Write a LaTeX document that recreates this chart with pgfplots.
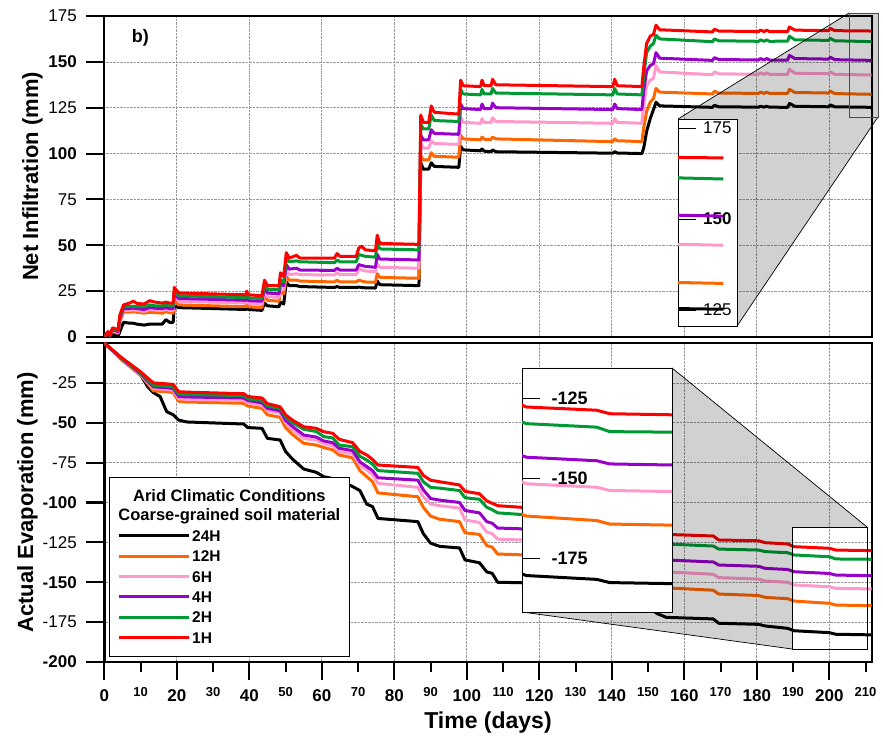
\documentclass[border=0pt]{standalone}
\usepackage{fontspec}
\setmainfont{Liberation Sans}
\usepackage{pgfplots}
\pgfplotsset{compat=1.18}
\usepackage{pgfplotstable}
\definecolor{corange}{RGB}{255,102,0}
\definecolor{cpink}{RGB}{255,153,204}
\definecolor{cpurple}{RGB}{153,0,204}
\definecolor{cgreen}{RGB}{0,153,51}
\definecolor{cred}{RGB}{255,0,0}
\tikzset{tk/.style={line width=2pt, black, solid}}

% Net infiltration: day, 24H, 12H, 6H, 4H, 2H, 1H
\pgfplotstableread{
day b o p u g r
0 0 0 0 0 0 0
1 1 2 2 2 2.5 3
1.5 0.5 1 1 1 1.5 1
2.3 1.5 3 3.5 4 4.5 5
3.8 0.5 2 2.5 3 3.5 4
4.3 3 8.5 9.5 10 11 12
5.3 8 13.5 14.5 15.5 16.5 17.5
7 7.5 13.5 14.5 15.5 16.5 18.5
8 7.5 13.8 14.8 15.8 16.8 19.5
9 7 13.5 14.5 15.5 16.5 18.3
11 6.5 13 14 15 16.5 18
12.5 7 13.5 15 16 17.5 19.8
14 7 13.3 14.7 15.7 17 19
16 7 13 14.5 15.5 17 18.5
17 9.5 13.8 15 16 17.5 19
18 8 13.3 14.5 15.5 17 18.5
19 8 13 14.5 15.5 17 18.5
19.3 17 20 22 23.5 25 27
20.5 16 17.5 19.5 21 22.5 24
30 15.5 17 19 20.5 22 23.5
39 15 16.5 18.5 20 21.5 23
39.3 15.5 17.5 19.5 21 22.5 25
39.8 15 16.5 18.3 19.8 21.3 23
43.5 14.5 16 18 19.5 21 22.5
44.2 18.5 23 25 27 29 31
45 17 20 22 24 26 28
48.2 16.5 19.5 21.5 23.5 26 28
48.6 19 24.5 27 29 31 35
49.5 18 23.5 26 28 30 33
50.2 30 33 36.5 39.5 43 46
51 28 31 34 37 41 43
53 28 31 34.5 37.5 41.5 44.5
54 27.5 30.5 34 36.5 41 43
63.5 27 30 33.8 36.3 40.5 43
64.2 27.5 31 35 37.5 42 45.5
65 27 30 34 36.5 41 44
69.5 27 30 34 36.5 41 44
70.2 27.2 31 37 39.5 45 48.5
71 27 30.5 36.5 39 44.5 49.5
72 26.8 30 36 38.5 44 47.5
74.8 26.7 29.8 35.5 38 43.5 47
75.3 30.5 34.5 40 45 51 55.5
76 28.5 32.5 38 42.5 48 51
86.8 28 32 37.5 42 47.5 50.5
87.3 95 99 106 110 116 121
88 91.5 96.5 103 107.5 113.5 117
89.5 91.5 96.5 103 107.5 113.5 117
90.2 95 100.5 107 113 121 126
91 93 98.5 105.5 111 118 122.5
97.8 92.5 98 105 110.5 117.5 121.5
98.3 104 110 120 127 135 140
99 102 108 117 124.5 132.5 137
103.8 101.5 107.5 116.5 124 132 136.5
104.2 102.5 109 119 127 135 140
104.8 101.3 107.8 117 124.5 132.5 137
106.7 101 107.8 117 124.5 132.5 137
107.1 102 109 119.5 127.5 135.5 140.5
108 101 108 117.5 125 133 137.5
140.3 100.2 106.5 116.5 124 132 136.5
140.8 101 108 119 127 135.5 140.5
141.5 100.3 107 117 124.5 132.5 137
148.3 100 106.5 116.5 124 132 136.5
148.8 103 114 126 134 142 147
149.6 112 123 137 145 155 160
150.6 119 128 140 148 158.5 164
151.5 124 130 141 149 160 165
152.2 128 135.5 148 155 164.5 170
153.2 126 133.5 144.5 152 162.5 167.5
167.8 125.2 132.5 143 150.8 161 166.3
168.3 126.3 134 144.5 152.3 162.5 167.8
169.5 125.5 133 143.5 151.3 161.5 166.8
180.5 125.3 132.8 143.2 151 161.2 166.5
181 125.8 133.5 144 151.8 162 167.3
182 125.3 132.8 143.2 151 161.2 166.5
182.7 125.8 133.5 144 151.8 162 167.3
183.5 125.3 132.8 143.2 151 161.2 166.5
188.5 125.2 132.8 143.2 151 161.3 166.5
189 127.3 135 146 153.5 164 169
190.5 125.8 133.3 143.8 151.8 162 167.3
199.8 125.5 133 143.5 151.5 161.7 167
200.3 126.5 134 144.5 152.5 162.8 168.2
201.5 125.5 132.7 143.2 151.2 161.5 167
212 125.2 132.3 142.8 150.8 161 166.8
}\infil

% Actual evaporation: day, 24H, 12H, 6H, 4H, 2H, 1H
\pgfplotstableread{
day b o p u g r
0 0 0 0 0 0 0
5 -10.5 -11 -10.6 -10.3 -10 -9.6
10 -20 -20.3 -19.7 -19.3 -18.7 -18
12 -27.5 -25.5 -24.5 -24 -23 -22
13.5 -31 -30 -28.5 -27.5 -26.5 -25
15.4 -33.6 -30.3 -28.8 -27.8 -26.8 -25.3
17.2 -43 -30.6 -29.1 -28.1 -27.1 -25.6
19 -45 -31 -29.5 -28.5 -27.5 -26
20.5 -48.3 -36.5 -35 -33.5 -32 -30.5
22.7 -49.5 -37 -35.3 -33.8 -32.3 -30.8
38.5 -50.8 -37.8 -36 -34.5 -33 -31.8
39.5 -53 -39.5 -37.5 -36 -35 -33.5
43.5 -53.5 -41 -39 -37.5 -36 -34.5
45 -59.8 -45 -42.5 -41 -39.5 -38
48.5 -60.8 -46.6 -44 -42.5 -41 -40
50 -68 -53 -50 -48.5 -46.5 -45
52 -73 -57.5 -54.5 -52.5 -50 -48.5
55 -79 -62.9 -59.8 -57.7 -54.1 -52.5
58.5 -81.1 -64 -61 -59 -55.5 -53.5
60.5 -83.8 -65.5 -63 -61.4 -58.7 -55.6
63 -85 -67 -64.5 -62.5 -59.5 -56.6
64.8 -86 -70.2 -68.1 -66 -64 -60.4
68.5 -90 -72 -69.5 -67.5 -65 -62.5
70.5 -92.5 -80 -76.5 -74.5 -71 -68
72.4 -101 -83.8 -79.6 -77.5 -73.4 -70.2
74 -102.6 -87 -82.5 -80 -76 -73
75.5 -110 -94 -88 -84.5 -80 -76.5
86.5 -112 -96.4 -90.5 -86 -81.7 -78
88 -119.5 -103 -96.5 -92 -87 -83
90 -125.5 -108.5 -101 -97.5 -90.5 -86
92.5 -127.5 -110.5 -102 -98.5 -91 -87
98 -128.5 -112 -103.5 -100 -92.5 -89
99.5 -136 -119 -111 -105 -97 -93
103.5 -137.8 -120 -112.5 -106.5 -98 -94.5
105.5 -143.5 -127 -118.5 -112 -103 -99
107 -144.4 -128 -119.5 -113 -104.5 -100.5
108.5 -150 -132.3 -123 -116 -106.5 -102
115 -150.3 -132.8 -123.5 -116.5 -107.5 -103
120 -153 -135.5 -126 -119 -110 -105
139.5 -155 -137 -127 -120 -111 -106
141 -160 -142 -132 -125 -115.5 -110
148 -162 -143.5 -133.5 -126.5 -117 -111
152.4 -169.5 -151.5 -141.5 -134 -124 -118
155 -172 -153.5 -143.5 -136 -126 -120
168 -173 -155 -145 -137.3 -127.3 -121
169.5 -175.7 -157.4 -147.1 -139.2 -129.2 -123.5
180.5 -176.4 -158.3 -148 -140 -129.8 -124
182.3 -177.4 -159.5 -149.2 -141.3 -130.8 -125.2
188.5 -178.9 -160.3 -150 -142 -131.5 -126
190.3 -180.4 -161.8 -151.7 -143.4 -132.9 -127.7
200 -181.6 -163.2 -152.8 -144.5 -134 -128.7
201.8 -182.6 -164.3 -153.8 -145.5 -135.4 -129.8
212 -183 -164.7 -154.2 -145.9 -135.6 -130.2
}\evap

\pgfplotsset{
  ser/.style={line width=3pt, line join=round, no marks},
  panel/.style={
    scale only axis, width=767.4pt, anchor=south west,
    xmin=0, xmax=211.7,
    axis line style={line width=2.4pt},
    grid=major, grid style={densely dotted, gray!80, line width=0.7pt},
    xtick={0,20,...,200},
    tick align=outside, tick pos=left,
    major tick length=18pt,
    xtick style={solid, draw=black, line width=2pt},
    ytick style={solid, draw=black, line width=2pt},
    tick label style={font=\fontsize{17}{17}\selectfont},
    yticklabel style={xshift=-6pt},
    clip mode=individual,
  },
}

\newcommand{\series}[1]{%
  \addplot[ser, black] table[x=day,y=b] {#1};
  \addplot[ser, corange] table[x=day,y=o] {#1};
  \addplot[ser, cpink] table[x=day,y=p] {#1};
  \addplot[ser, cpurple] table[x=day,y=u] {#1};
  \addplot[ser, cgreen] table[x=day,y=g] {#1};
  \addplot[ser, cred] table[x=day,y=r] {#1};
}

\begin{document}
\begin{tikzpicture}
\useasboundingbox (0,0) rectangle (883pt,736pt);

% ---------- top panel ----------
\begin{axis}[panel, at={(104.3pt,399pt)}, height=321pt,
  ymin=0, ymax=175, ytick={0,25,...,175},
  yticklabels={\textbf{0},25,\textbf{50},75,\textbf{100},125,\textbf{150},175},
  xticklabels={}, xtick style={draw=none},
  ylabel={Net Infiltration (mm)},
  ylabel style={at={(axis description cs:-0.0864,0.5)}, anchor=base, font=\fontsize{22}{22}\selectfont\bfseries},
]
\series{\infil}
\node[font=\fontsize{18}{18}\selectfont\bfseries] at (axis description cs:0.047,0.931) {b)};
\end{axis}

% ---------- bottom panel ----------
\begin{axis}[panel, at={(104.3pt,74pt)}, height=319pt,
  ymin=-200, ymax=0, ytick={-200,-175,...,-25},
  yticklabels={\textbf{-200},-175,\textbf{-150},-125,\textbf{-100},-75,\textbf{-50},-25},
  xticklabels={0,20,40,60,80,100,120,140,160,180,200},
  xticklabel style={font=\fontsize{17}{17}\selectfont\bfseries, yshift=-6pt},
  extra x ticks={10,30,50,70,90,110,130,150,170,190,210},
  extra x tick labels={10,30,50,70,90,110,130,150,170,190,210},
  extra x tick style={grid=none, major tick length=10pt,
     xticklabel style={font=\fontsize{13}{13}\selectfont\bfseries, yshift=-6pt}},
  xlabel={Time (days)},
  xlabel style={at={(axis description cs:0.5,-0.207)}, anchor=base, font=\fontsize{23}{23}\selectfont\bfseries},
  ylabel={Actual Evaporation (mm)},
  ylabel style={at={(axis description cs:-0.0929,0.5)}, anchor=base, font=\fontsize{22}{22}\selectfont\bfseries},
  legend cell align=left,
  legend image code/.code={\draw[#1] (0pt,0pt) -- (70pt,0pt);},
  legend style={at={(axis description cs:0.0166,0.42)}, anchor=north west,
     draw=none, fill=none, inner sep=0pt, row sep=5.4pt,
     font=\fontsize{15.5}{15.5}\selectfont\bfseries,
     nodes={inner sep=2pt, text height=11pt, text depth=0pt}},
]
\series{\evap}
\legend{24H,12H,6H,4H,2H,1H}
\draw[fill=white, line width=1pt] (axis description cs:0.0074,0.016) rectangle (axis description cs:0.319,0.577);
\node[anchor=base, font=\fontsize{16.5}{16.5}\selectfont\bfseries] at (axis description cs:0.163,0.5025) {Arid Climatic Conditions};
\node[anchor=base, font=\fontsize{16.5}{16.5}\selectfont\bfseries] at (axis description cs:0.163,0.445) {Coarse-grained soil material};
\end{axis}

% ---------- zoom connectors ----------
\fill[black, opacity=0.18] (678pt,617pt) -- (849pt,723pt) -- (878pt,723pt) -- (878pt,619pt) -- (737pt,410pt) -- (678pt,410pt) -- cycle;
\draw[line width=0.7pt] (678pt,617pt) -- (849pt,723pt);
\draw[line width=0.7pt] (737pt,410pt) -- (878pt,619pt);
\draw[gray!60!black, line width=0.9pt] (849pt,619pt) rectangle (878pt,723pt);

\fill[black, opacity=0.18] (522pt,368pt) -- (672pt,368pt) -- (867pt,209pt) -- (792pt,209pt) -- (792pt,87pt) -- (522pt,124pt) -- cycle;
\draw[line width=0.7pt] (672pt,368pt) -- (867pt,209pt);
\draw[line width=0.7pt] (522pt,124pt) -- (792pt,87pt);
\draw[line width=0.9pt] (792pt,87pt) rectangle (867pt,209pt);

% ---------- top inset ----------
\begin{axis}[at={(678pt,410pt)}, anchor=south west, scale only axis,
  width=59pt, height=207pt,
  xmin=205.4, xmax=214, ymin=120.6, ymax=177.5,
  axis background/.style={fill=white},
  axis line style={line width=0.9pt},
  xtick=\empty,
  ytick={125,150,175}, yticklabels={125,\textbf{150},175},
  ytick pos=left, yticklabel pos=right, tick align=inside,
  major tick length=18pt, tick style={line width=0.8pt, black},
  yticklabel style={anchor=east, font=\fontsize{17}{17}\selectfont, xshift=-2pt},
]
\series{\infil}
\end{axis}

% ---------- bottom inset ----------
\begin{axis}[at={(522pt,124pt)}, anchor=south west, scale only axis,
  width=150pt, height=244pt,
  xmin=189.7, xmax=210.4, ymin=-191.8, ymax=-115.5,
  axis background/.style={fill=white},
  axis line style={line width=0.9pt},
  xtick=\empty,
  ytick={-175,-150,-125}, yticklabels={-175,-150,-125},
  ytick pos=left, tick align=inside,
  major tick length=18pt, tick style={line width=0.8pt, black},
  yticklabel style={anchor=west, font=\fontsize{18}{18}\selectfont\bfseries, xshift=26pt},
]
\series{\evap}
\end{axis}

% ---------- axis ticks (outside) ----------
\foreach \yy in {399,444.857,490.714,536.571,582.429,628.286,674.143,720}
  \draw[tk] (86.3pt,\yy pt) -- (104.3pt,\yy pt);
\foreach \yy in {74,113.875,153.75,193.625,233.5,273.375,313.25,353.125,393}
  \draw[tk] (86.3pt,\yy pt) -- (104.3pt,\yy pt);
\foreach \xx in {104.3,176.8,249.3,321.8,394.3,466.79,539.29,611.79,684.29,756.79,829.29}
  \draw[tk] (\xx pt,74pt) -- (\xx pt,56pt);
\foreach \xx in {140.55,213.05,285.55,358.05,430.54,503.04,575.54,648.04,720.54,793.04,865.54}
  \draw[tk] (\xx pt,74pt) -- (\xx pt,64pt);
\end{tikzpicture}
\end{document}
